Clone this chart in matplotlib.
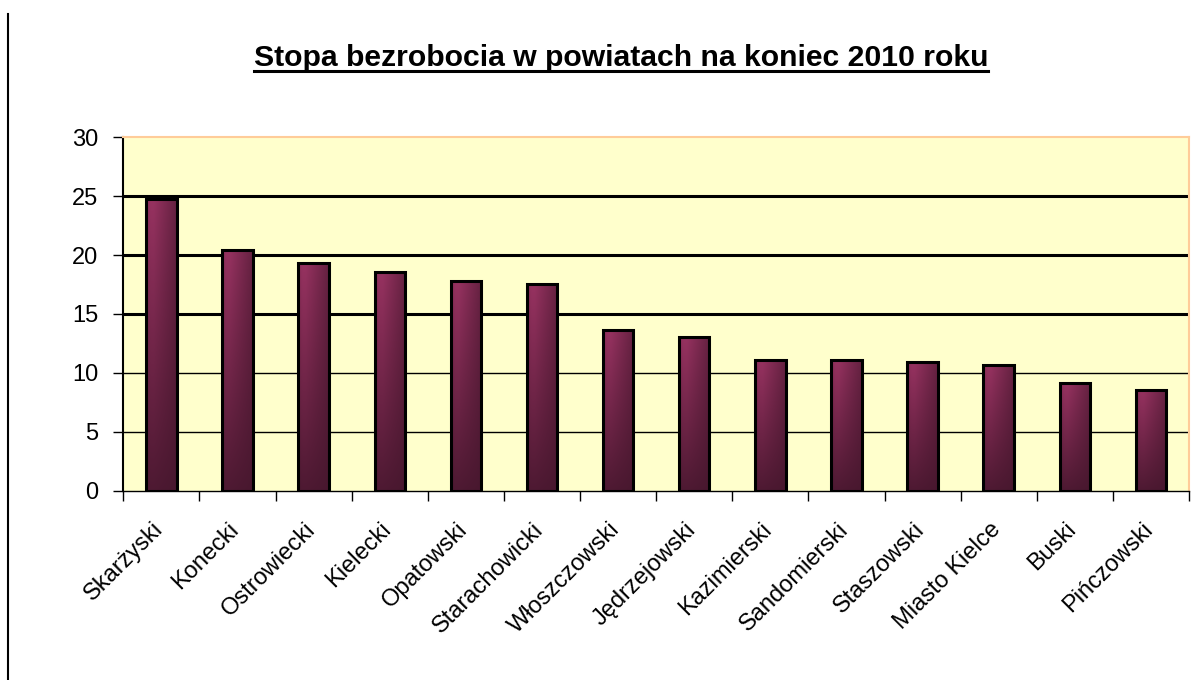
import numpy as np
import matplotlib
matplotlib.use('Agg')
import matplotlib.pyplot as plt
from matplotlib.lines import Line2D
from matplotlib.transforms import ScaledTranslation

categories = ['Skarżyski', 'Konecki', 'Ostrowiecki', 'Kielecki', 'Opatowski',
              'Starachowicki', 'Włoszczowski', 'Jędrzejowski', 'Kazimierski',
              'Sandomierski', 'Staszowski', 'Miasto Kielce', 'Buski', 'Pińczowski']
values = [24.8, 20.4, 19.3, 18.6, 17.8, 17.5, 13.6, 13.0, 11.1, 11.1, 10.9, 10.7, 9.1, 8.5]
yticks = [0, 5, 10, 15, 20, 25, 30]
title = 'Stopa bezrobocia w powiatach na koniec 2010 roku'

plt.rcParams['font.family'] = ['Liberation Sans', 'DejaVu Sans']

W, H = 1204, 680
fig = plt.figure(figsize=(W / 100, H / 100), dpi=100)
fig.patch.set_facecolor('white')
ax = fig.add_axes([123.3 / W, 1 - 490.5 / H, (1189 - 123.3) / W, (490.5 - 137.3) / H])
ax.set_facecolor('#FFFFCC')

x = np.arange(len(categories))
bars = ax.bar(x, values, width=0.4, facecolor='none', edgecolor='black',
              linewidth=2.2, zorder=4)

# gradient fill for bars
nx, ny = 80, 200
u = np.linspace(0, 1, nx)[None, :]
v = np.linspace(0, 1, ny)[:, None]
ufac = 1 - 0.6 * np.clip((u - 0.25) / 0.75, 0, 1) - 0.15 * np.clip((0.15 - u) / 0.15, 0, 1)
vfac = 0.12 + 0.88 * v
b = (ufac * vfac)[..., None]
light = np.array([150, 50, 96]) / 255
dark = np.array([68, 22, 44]) / 255
img = dark + (light - dark) * b

for rect in bars:
    x0 = rect.get_x()
    x1 = x0 + rect.get_width()
    h = rect.get_height()
    im = ax.imshow(img, extent=[x0, x1, 0, h], origin='lower', aspect='auto',
                   interpolation='bilinear', zorder=3)
    im.set_clip_path(rect)

ax.set_xlim(-0.5, len(categories) - 0.5)
ax.set_ylim(yticks[0], yticks[-1])

# gridlines
for t in yticks[1:-1]:
    ax.axhline(t, color='black', lw=2.2 if t >= 15 else 1.0, zorder=1)

for s in ['top', 'right']:
    ax.spines[s].set_color('#FFCC99')
    ax.spines[s].set_linewidth(1.5)
ax.spines['left'].set_color('black')
ax.spines['left'].set_linewidth(1.5)
ax.spines['bottom'].set_color('black')
ax.spines['bottom'].set_linewidth(1.0)

ax.set_yticks(yticks)
ax.set_yticklabels([str(t) for t in yticks])
ax.tick_params(axis='y', length=7, width=1, pad=11, labelsize=17, colors='black')

ax.set_xticks(np.arange(-0.5, len(categories), 1.0))
ax.set_xticklabels([])
ax.tick_params(axis='x', which='major', length=7, width=1, colors='black')
ax.set_xticks(x, minor=True)
labels = ax.set_xticklabels(categories, minor=True, rotation=45, ha='right', va='top',
                            fontsize=17)
ax.tick_params(axis='x', which='minor', length=0, pad=20)
shift = ScaledTranslation(6 / 100, 0, fig.dpi_scale_trans)
for lab in labels:
    lab.set_transform(lab.get_transform() + shift)

t = fig.text(621 / W, 1 - 58 / H, title, ha='center', va='center',
             fontsize=21.7, fontweight='bold')

fig.canvas.draw()
bb = t.get_window_extent()
uy = (bb.y0 + 1) / H
fig.add_artist(Line2D([bb.x0 / W, bb.x1 / W], [uy, uy], transform=fig.transFigure,
                      color='black', lw=2.2))

fig.add_artist(Line2D([8 / W, 8 / W], [0, 1 - 14 / H], transform=fig.transFigure,
                      color='black', lw=1.5))

fig.savefig('out.png', dpi=100, facecolor='white')
